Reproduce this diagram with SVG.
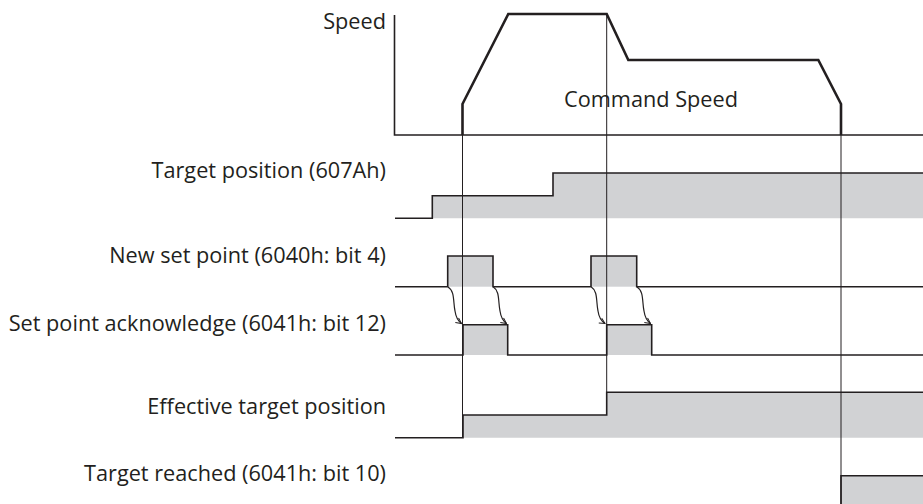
<svg xmlns="http://www.w3.org/2000/svg" width="923" height="504" viewBox="0 0 923 504">
<defs>
<style>
.lbl{font-family:"Open Sans","Liberation Sans",sans-serif;font-size:21.7px;fill:#231f20;text-anchor:end}
.sig{fill:none;stroke:#231f20;stroke-width:1.6}
.fill{fill:#d1d2d4;stroke:none}
.mark{fill:none;stroke:#231f20;stroke-width:1}
.spd{fill:none;stroke:#231f20;stroke-width:2.6;stroke-linejoin:miter}
.arr{fill:none;stroke:#231f20;stroke-width:1.2;marker-end:url(#ah)}
</style>
<marker id="ah" viewBox="0 0 10 10" refX="9" refY="5" markerWidth="7" markerHeight="7" orient="auto" markerUnits="userSpaceOnUse">
<path d="M1,1 L9,5 L1,9" fill="none" stroke="#231f20" stroke-width="1.4"/>
</marker>
</defs>
<rect width="923" height="504" fill="#fff"/>

<g id="fills">
<path class="fill" d="M432.3,195.7 H553 V173 H923 V218.3 H432.3 Z"/>
<rect class="fill" x="447.7" y="256" width="45.3" height="30.7"/>
<rect class="fill" x="591" y="256" width="45.7" height="30.7"/>
<rect class="fill" x="463" y="324.7" width="44.7" height="30.3"/>
<rect class="fill" x="606.7" y="324.7" width="45" height="30.3"/>
<path class="fill" d="M463,415 H606.7 V392.3 H923 V437.7 H463 Z"/>
<rect class="fill" x="841" y="475.7" width="82" height="28.3"/>
</g>

<g id="speed">
<path class="sig" d="M394.5,15 V135 H923"/>
<path class="spd" d="M462.5,135 V104 L508.3,14 H606.7 L628.3,60 H818.3 L841,104 V135"/>
<text class="lbl" x="386" y="29">Speed</text>
<text class="lbl" x="651" y="107" style="text-anchor:middle">Command Speed</text>
</g>

<g id="target-position">
<path class="sig" d="M395,218.3 H432.3 V195.7 H553 V173 H923"/>
<text class="lbl" x="386" y="178">Target position (607Ah)</text>
</g>

<g id="new-set-point">
<path class="sig" d="M395,286.7 H447.7 V256 H493 V286.7 H591 V256 H636.7 V286.7 H923"/>
<text class="lbl" x="386" y="263">New set point (6040h: bit 4)</text>
</g>

<g id="set-point-ack">
<path class="sig" d="M395,355 H463 V324.7 H507.7 V355 H606.7 V324.7 H651.7 V355 H923"/>
<text class="lbl" x="386" y="331">Set point acknowledge (6041h: bit 12)</text>
</g>

<g id="effective-target">
<path class="sig" d="M395,437.7 H463 V415 H606.7 V392.3 H923"/>
<text class="lbl" x="386" y="414">Effective target position</text>
</g>

<g id="target-reached">
<path class="sig" d="M841,504 V475.7 H923"/>
<text class="lbl" x="386" y="481">Target reached (6041h: bit 10)</text>
</g>

<g id="connectors">
<line class="mark" x1="462.5" y1="104" x2="462.5" y2="437"/>
<line class="mark" x1="606.7" y1="14" x2="606.7" y2="392"/>
<line class="mark" x1="841" y1="104" x2="841" y2="504"/>
<path class="arr" d="M448,287 C455,291 453,302 455,311 C456,318 458,321 461.5,323.5"/>
<path class="arr" d="M493.3,287 C500,291 498,302 500,311 C501,318 503,321 506.5,323.5"/>
<path class="arr" d="M591.3,287 C598,291 596,302 598,311 C599,318 601,321 605,323.5"/>
<path class="arr" d="M637,287 C644,291 642,302 644,311 C645,318 647,321 650.5,323.5"/>
</g>
</svg>
